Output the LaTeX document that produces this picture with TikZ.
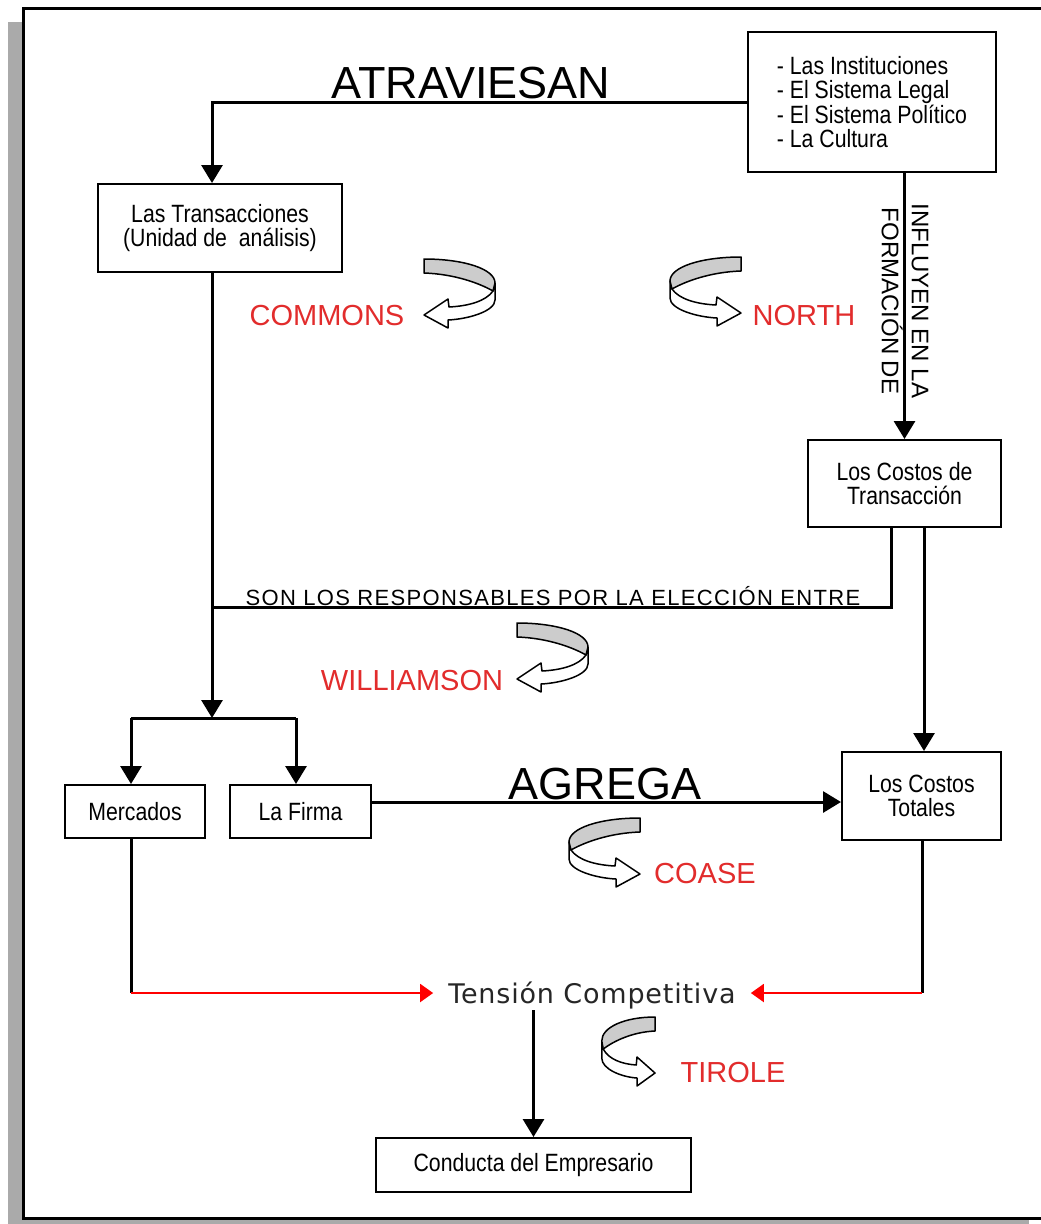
\documentclass[tikz,border=0pt]{standalone}
\usepackage{fontspec}
\setmainfont{Liberation Sans}
\newfontfamily\narrowf[FakeStretch=0.85]{Liberation Sans}
\newfontfamily\sonf[LetterSpace=6]{Liberation Sans}
\newfontfamily\tensf[LetterSpace=3]{DejaVu Sans}
\usetikzlibrary{arrows.meta}
\definecolor{lblred}{RGB}{226,44,44}
\definecolor{shadowgray}{RGB}{170,170,170}
\definecolor{bandgray}{RGB}{204,204,204}
\tikzset{
  boxnode/.style={draw, line width=2pt, fill=white, inner sep=0pt, align=center,
    font=\narrowf\fontsize{25}{24.5}\selectfont},
  conn/.style={line width=3pt},
  arr/.style={conn, -{Triangle[length=18pt,width=21pt]}},
  redarr/.style={red, line width=2pt, -{Triangle[length=13pt,width=18pt]}},
  lbl/.style={inner sep=0pt, text=lblred, font=\fontsize{29}{29}\selectfont},
  biglbl/.style={inner sep=0pt, font=\fontsize{45}{45}\selectfont},
  ribbon/.pic={
    \path[fill=white, draw=black, line width=1.5pt, line join=round]
      (71,24) -- (71,41) .. controls (71,52) and (45,60) .. (24,61)
      -- (24,69) -- (0,56) -- (24,40) -- (25,48)
      .. controls (45,47) and (62,42) .. (69,32) -- cycle;
    \path[fill=bandgray, draw=black, line width=1.5pt, line join=round]
      (0,0) .. controls (40,0) and (71,10) .. (71,24) -- (69,32)
      .. controls (55,24) and (30,15) .. (0,14) -- cycle;
  }
}
\begin{document}
\begin{tikzpicture}[x=1pt, y=-1pt]
\useasboundingbox (0,0) rectangle (1041,1224);
% frame with shadow
\fill[shadowgray] (8,22) rectangle (1029,1230);
\draw[line width=3pt, fill=white] (23,8) rectangle (1048,1218);

% boxes
\node[boxnode, minimum width=248pt, minimum height=140pt, align=left] (inst) at (872,102)
  {- Las Instituciones\\- El Sistema Legal\\- El Sistema Político\\- La Cultura};
\node[boxnode, minimum width=244pt, minimum height=88pt] (trans) at (220,228)
  {Las Transacciones\\(Unidad de~ análisis)};
\node[boxnode, minimum width=193pt, minimum height=87pt] (ctrans) at (904.5,483.5)
  {Los Costos de\\Transacción};
\node[boxnode, minimum width=140pt, minimum height=53pt] (merc) at (135,811.5) {Mercados};
\node[boxnode, minimum width=141pt, minimum height=53pt] (firma) at (300.5,811.5) {La Firma};
\node[boxnode, minimum width=159pt, minimum height=88pt] (ctot) at (921.5,796)
  {Los Costos\\Totales};
\node[boxnode, minimum width=315pt, minimum height=54pt] (cond) at (533.5,1165)
  {Conducta del Empresario};
\node[inner xsep=15pt, inner ysep=1.5pt, anchor=base, text=black!85,
  font=\tensf\fontsize{27}{27}\selectfont] (tens) at (592,1003) {Tensión Competitiva};

% coordinates
\coordinate (split) at (212,718);
\coordinate (bl) at (131,718);
\coordinate (br) at (296,718);
\coordinate (join) at (212,607);
\coordinate (rl) at (131,993);
\coordinate (rr) at (922,993);
\coordinate (fe) at ([yshift=9.5pt]firma.east);

% connectors
\draw[arr] (inst.west) -| ([xshift=-8pt]trans.north);
\draw[arr] (inst.south -| ctrans.north) -- (ctrans.north);
\draw[arr] ([xshift=-8pt]trans.south) -- (split);
\draw[conn] (bl) -- (br);
\draw[arr] (bl) -- (bl |- merc.north);
\draw[arr] (br) -- (br |- firma.north);
\draw[conn] ([xshift=-13.5pt]ctrans.south) |- (join);
\draw[arr] ([xshift=19.5pt]ctrans.south) -- ([xshift=2.5pt]ctot.north);
\draw[arr] (fe) -- (fe -| ctot.west);
\draw[conn] (merc.south -| rl) -- (rl);
\draw[redarr] (rl) -- (rl -| tens.west);
\draw[conn] (ctot.south -| rr) -- (rr);
\draw[redarr] (rr) -- (rr -| tens.east);
\draw[arr] (tens.south -| cond.north) -- (cond.north);

% connector labels
\node[biglbl] (atr) at (471,83) {ATRAVIESAN};
\node[biglbl] (agr) at (605,784) {AGREGA};
\node[inner sep=0pt, anchor=base, font=\sonf\fontsize{22}{22}\selectfont] (son) at (553,605)
  {SON LOS RESPONSABLES POR LA ELECCIÓN ENTRE};
\node[rotate=-90, align=center, inner sep=0pt, font=\fontsize{24}{30}\selectfont] (infl)
  at (905,301) {INFLUYEN EN LA\\FORMACIÓN DE};

% authors with ribbon arrows
\pic at (424,259) {ribbon};
\node[lbl] (commons) at (327,316) {COMMONS};
\pic[xscale=-1] at (741,257) {ribbon};
\node[lbl] (north) at (804,316) {NORTH};
\pic at (517,623) {ribbon};
\node[lbl] (will) at (412,681) {WILLIAMSON};
\pic[xscale=-1] at (640,818) {ribbon};
\node[lbl] (coase) at (705,874) {COASE};
\pic[xscale=-0.75] at (655,1017) {ribbon};
\node[lbl] (tirole) at (733,1073) {TIROLE};
\end{tikzpicture}
\end{document}
